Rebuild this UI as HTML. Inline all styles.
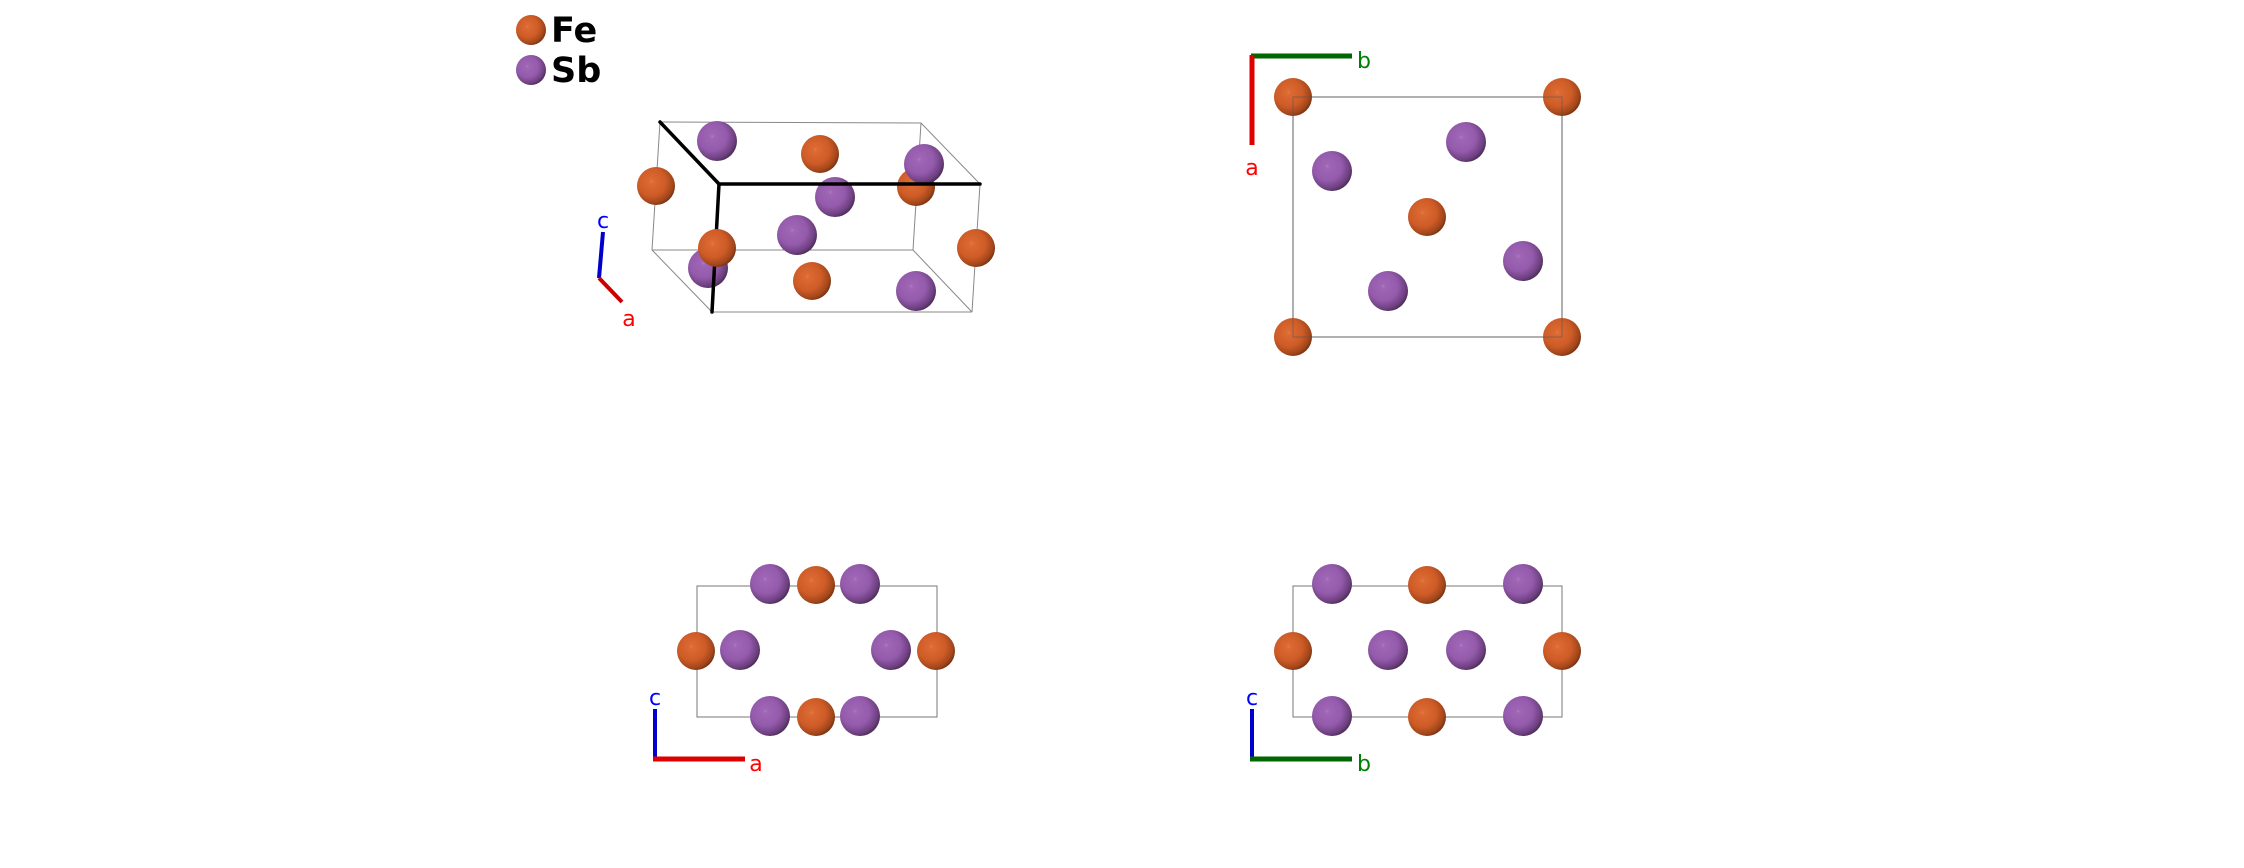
<!DOCTYPE html>
<html><head><meta charset="utf-8"><style>
html,body{margin:0;padding:0;background:#fff;width:2244px;height:868px;overflow:hidden}
svg{display:block}
</style></head><body>
<svg width="2244" height="868" viewBox="0 0 2244 868" xmlns="http://www.w3.org/2000/svg" font-family="'DejaVu Sans','Liberation Sans',sans-serif">
<defs>
<radialGradient id="fe" cx="0.4" cy="0.4" r="0.65" fx="0.38" fy="0.38">
<stop offset="0" stop-color="#e87a45"/><stop offset="0.08" stop-color="#dc6a33"/><stop offset="0.55" stop-color="#cf5c27"/><stop offset="0.85" stop-color="#a1461b"/><stop offset="1" stop-color="#6e2e10"/>
</radialGradient>
<radialGradient id="sb" cx="0.4" cy="0.4" r="0.65" fx="0.38" fy="0.38">
<stop offset="0" stop-color="#b07ac4"/><stop offset="0.08" stop-color="#a066b6"/><stop offset="0.55" stop-color="#945aab"/><stop offset="0.85" stop-color="#6c3f7e"/><stop offset="1" stop-color="#45284f"/>
</radialGradient>
</defs>

<!-- legend -->
<circle cx="531" cy="30" r="15" fill="url(#fe)"/>
<circle cx="531" cy="70" r="15" fill="url(#sb)"/>
<text x="551" y="42" font-size="35" font-weight="bold" fill="#000">Fe</text>
<text x="551" y="82" font-size="35" font-weight="bold" fill="#000">Sb</text>

<!-- 3D cell thin lines -->
<g stroke="#888" stroke-width="1" fill="none">
<line x1="660" y1="122" x2="921" y2="123"/>
<line x1="921" y1="123" x2="980" y2="184"/>
<line x1="660" y1="122" x2="652" y2="250"/>
<line x1="652" y1="250" x2="913" y2="250"/>
<line x1="913" y1="250" x2="921" y2="123"/>
<line x1="652" y1="250" x2="712" y2="312"/>
<line x1="712" y1="312" x2="972" y2="312"/>
<line x1="972" y1="312" x2="980" y2="184"/>
<line x1="913" y1="250" x2="972" y2="312"/>
</g>
<circle cx="717" cy="141" r="20" fill="url(#sb)"/>
<circle cx="820" cy="154" r="19" fill="url(#fe)"/>
<circle cx="916" cy="187" r="19" fill="url(#fe)"/>
<circle cx="924" cy="164" r="20" fill="url(#sb)"/>
<circle cx="656" cy="186" r="19" fill="url(#fe)"/>
<circle cx="835" cy="197" r="20" fill="url(#sb)"/>
<circle cx="797" cy="235" r="20" fill="url(#sb)"/>
<circle cx="708" cy="268" r="20" fill="url(#sb)"/>
<circle cx="812" cy="281" r="19" fill="url(#fe)"/>
<circle cx="916" cy="291" r="20" fill="url(#sb)"/>
<circle cx="976" cy="248" r="19" fill="url(#fe)"/>
<g stroke="#000" stroke-width="3.5" stroke-linecap="round" fill="none">
<line x1="660" y1="122" x2="719" y2="184"/>
<line x1="719" y1="184" x2="980" y2="184"/>
<line x1="719" y1="184" x2="712" y2="312"/>
</g>
<circle cx="717" cy="248" r="19" fill="url(#fe)"/>
<line x1="603" y1="232" x2="599" y2="278" stroke="#0000cc" stroke-width="4"/>
<line x1="599" y1="278" x2="622" y2="302" stroke="#cc0000" stroke-width="4"/>
<text x="603" y="228" font-size="22" fill="#0000ff" text-anchor="middle">c</text>
<text x="629" y="326" font-size="22" fill="#ff0000" text-anchor="middle">a</text>

<!-- top right view -->
<rect x="1293" y="97" width="269" height="240" fill="none" stroke="#777" stroke-width="1"/>
<circle cx="1293" cy="97" r="19" fill="url(#fe)"/>
<circle cx="1562" cy="97" r="19" fill="url(#fe)"/>
<circle cx="1293" cy="337" r="19" fill="url(#fe)"/>
<circle cx="1562" cy="337" r="19" fill="url(#fe)"/>
<rect x="1293" y="97" width="269" height="240" fill="none" stroke="#555" stroke-width="1" opacity="0.6"/>
<circle cx="1332" cy="171" r="20" fill="url(#sb)"/>
<circle cx="1466" cy="142" r="20" fill="url(#sb)"/>
<circle cx="1427" cy="217" r="19" fill="url(#fe)"/>
<circle cx="1523" cy="261" r="20" fill="url(#sb)"/>
<circle cx="1388" cy="291" r="20" fill="url(#sb)"/>
<line x1="1251" y1="56" x2="1352" y2="56" stroke="#006600" stroke-width="5"/>
<line x1="1252" y1="55" x2="1252" y2="145" stroke="#dd0000" stroke-width="5"/>
<text x="1364" y="68" font-size="22" fill="#008000" text-anchor="middle">b</text>
<text x="1252" y="175" font-size="22" fill="#ff0000" text-anchor="middle">a</text>

<!-- bottom left view -->
<rect x="697" y="586" width="240" height="131" fill="none" stroke="#777" stroke-width="1"/>
<g>
<circle cx="770" cy="584" r="20" fill="url(#sb)"/>
<circle cx="860" cy="584" r="20" fill="url(#sb)"/>
<circle cx="816" cy="585" r="19" fill="url(#fe)"/>
<circle cx="696" cy="651" r="19" fill="url(#fe)"/>
<circle cx="740" cy="650" r="20" fill="url(#sb)"/>
<circle cx="891" cy="650" r="20" fill="url(#sb)"/>
<circle cx="936" cy="651" r="19" fill="url(#fe)"/>
<circle cx="770" cy="716" r="20" fill="url(#sb)"/>
<circle cx="860" cy="716" r="20" fill="url(#sb)"/>
<circle cx="816" cy="717" r="19" fill="url(#fe)"/>
</g>
<line x1="655" y1="709" x2="655" y2="760" stroke="#0000cc" stroke-width="4"/>
<line x1="653" y1="759" x2="745" y2="759" stroke="#dd0000" stroke-width="5"/>
<text x="655" y="705" font-size="22" fill="#0000ff" text-anchor="middle">c</text>
<text x="756" y="771" font-size="22" fill="#ff0000" text-anchor="middle">a</text>

<!-- bottom right view -->
<rect x="1293" y="586" width="269" height="131" fill="none" stroke="#777" stroke-width="1"/>
<g>
<circle cx="1332" cy="584" r="20" fill="url(#sb)"/>
<circle cx="1427" cy="585" r="19" fill="url(#fe)"/>
<circle cx="1523" cy="584" r="20" fill="url(#sb)"/>
<circle cx="1293" cy="651" r="19" fill="url(#fe)"/>
<circle cx="1388" cy="650" r="20" fill="url(#sb)"/>
<circle cx="1466" cy="650" r="20" fill="url(#sb)"/>
<circle cx="1562" cy="651" r="19" fill="url(#fe)"/>
<circle cx="1332" cy="716" r="20" fill="url(#sb)"/>
<circle cx="1427" cy="717" r="19" fill="url(#fe)"/>
<circle cx="1523" cy="716" r="20" fill="url(#sb)"/>
</g>
<line x1="1252" y1="709" x2="1252" y2="760" stroke="#0000cc" stroke-width="4"/>
<line x1="1250" y1="759" x2="1352" y2="759" stroke="#006600" stroke-width="5"/>
<text x="1252" y="705" font-size="22" fill="#0000ff" text-anchor="middle">c</text>
<text x="1364" y="771" font-size="22" fill="#008000" text-anchor="middle">b</text>
</svg>
</body></html>
